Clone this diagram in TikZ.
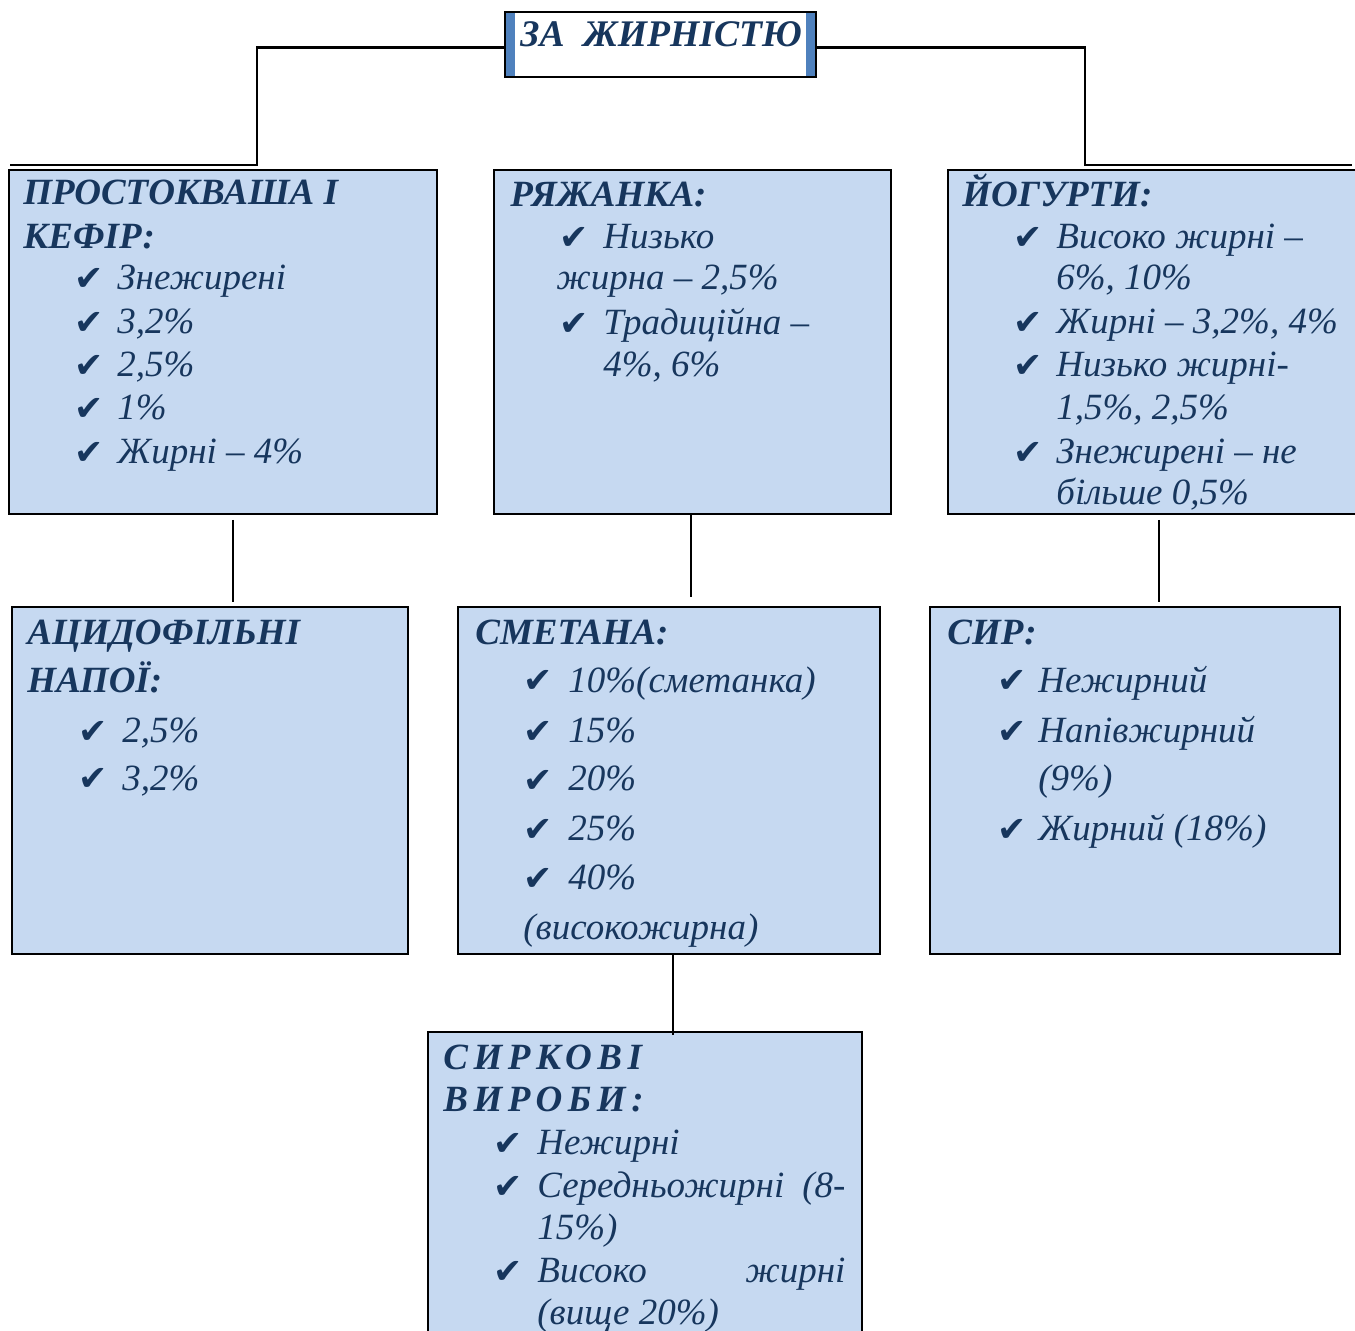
\documentclass[tikz,border=0pt]{standalone}
\usepackage{fontspec}
\setmainfont{Liberation Serif}
\newfontfamily\checkfont{DejaVu Sans}
\definecolor{txt}{HTML}{17365D}
\definecolor{boxfill}{HTML}{C6D9F1}
\definecolor{bar}{HTML}{4F81BD}
\newcommand\chkitem[5]{\node[chk] (#1c) at (#2,#4) {✔}; \node[itm] (#1) at (#3,#4) {#5};}
\newcommand\txitem[4]{\node[itm] (#1) at (#2,#3) {#4};}
\begin{document}
\begin{tikzpicture}[x=0.5pt,y=-0.5pt,
  box/.style={draw=black, line width=1.2pt, fill=boxfill, anchor=north west, inner sep=0, outer sep=0},
  head/.style={anchor=base west, inner sep=0, text=txt, font=\fontsize{18.5}{22}\selectfont\bfseries\itshape, yshift=-1pt},
  itm/.style={anchor=base west, inner sep=0, text=txt, font=\fontsize{18.5}{22}\selectfont\itshape, yshift=-1pt},
  chk/.style={anchor=base west, inner sep=0, text=txt, font=\fontsize{17.5}{20}\checkfont, yshift=-1.5pt},
  conn/.style={draw=black, line width=1.2pt}]
\useasboundingbox (0,0) rectangle (1355,1331);
\clip (0,0) rectangle (1355,1331);
% title
\node[fill=white, minimum width=155.5pt, minimum height=32.5pt, anchor=north west, inner sep=0, outer sep=0] (title) at (505,12) {};
\fill[bar] (title.north west) rectangle ([xshift=5pt]title.south west);
\fill[bar] ([xshift=-5pt]title.north east) rectangle (title.south east);
\draw[line width=1.2pt] (title.north west) rectangle (title.south east);
\node[head, font=\fontsize{18.8}{24}\selectfont\bfseries\itshape] (tt) at (520,45) {ЗА\ \ ЖИРНІСТЮ};
% connectors from title
\coordinate (lk) at (257,165); \coordinate (le) at (10,165);
\coordinate (rk) at (1085,165); \coordinate (re) at (1352,165);
\draw[conn] ([yshift=-1.5pt]title.west) -| (lk) -- (le);
\draw[conn] ([yshift=-1.5pt]title.east) -| (rk) -- (re);
% boxes
\node[box, minimum width=214pt, minimum height=172pt] (b1) at (9,170) {};
\node[box, minimum width=198.5pt, minimum height=172pt] (b2) at (494,170) {};
\node[box, minimum width=215pt, minimum height=172pt] (b3) at (948,170) {};
\node[box, minimum width=198pt, minimum height=173.5pt] (b4) at (12,607) {};
\node[box, minimum width=211pt, minimum height=173.5pt] (b5) at (458,607) {};
\node[box, minimum width=205pt, minimum height=173.5pt] (b6) at (930,607) {};
\node[box, minimum width=217pt, minimum height=160pt] (b7) at (428,1032) {};
% vertical connectors
\coordinate (v1a) at (233,520); \coordinate (v1b) at (233,602);
\coordinate (v2a) at (691,515); \coordinate (v2b) at (691,597);
\coordinate (v3a) at (1159,520); \coordinate (v3b) at (1159,602);
\coordinate (v4a) at (673,954); \coordinate (v4b) at (673,1035);
\draw[conn] (v1a) -- (v1b);
\draw[conn] (v2a) -- (v2b);
\draw[conn] (v3a) -- (v3b);
\draw[conn] (v4a) -- (v4b);
% box 1
\node[head] (h1a) at (23,203) {ПРОСТОКВАША І};
\node[head] (h1b) at (23,247) {КЕФІР:};
\chkitem{a1}{74}{117}{288}{Знежирені}
\chkitem{a2}{74}{117}{332}{3,2\%}
\chkitem{a3}{74}{117}{375}{2,5\%}
\chkitem{a4}{74}{117}{418}{1\%}
\chkitem{a5}{74}{117}{462}{Жирні – 4\%}
% box 2
\node[head] (h2) at (510,205) {РЯЖАНКА:};
\chkitem{b21}{559}{603}{247}{Низько}
\txitem{b22}{556}{288}{жирна – 2,5\%}
\chkitem{b23}{559}{603}{333}{Традиційна –}
\txitem{b24}{603}{375}{4\%, 6\%}
% box 3
\node[head] (h3) at (962,205) {ЙОГУРТИ:};
\chkitem{c1}{1013}{1056}{247}{Високо жирні –}
\txitem{c2}{1056}{288}{6\%, 10\%}
\chkitem{c3}{1013}{1056}{332}{Жирні – 3,2\%, 4\%}
\chkitem{c4}{1013}{1056}{375}{Низько жирні-}
\txitem{c5}{1056}{418}{1,5\%, 2,5\%}
\chkitem{c6}{1013}{1056}{462}{Знежирені – не}
\txitem{c7}{1056}{503}{більше 0,5\%}
% box 4
\node[head] (h4a) at (27,643) {АЦИДОФІЛЬНІ};
\node[head] (h4b) at (27,690) {НАПОЇ:};
\chkitem{d1}{78}{122}{740}{2,5\%}
\chkitem{d2}{78}{122}{788}{3,2\%}
% box 5
\node[head] (h5) at (475,643) {СМЕТАНА:};
\chkitem{e1}{523}{568}{690}{10\%(сметанка)}
\chkitem{e2}{523}{568}{740}{15\%}
\chkitem{e3}{523}{568}{789}{20\%}
\chkitem{e4}{523}{568}{838}{25\%}
\chkitem{e5}{523}{568}{887}{40\%}
\txitem{e6}{523}{937}{(високожирна)}
% box 6
\node[head] (h6) at (947,643) {СИР:};
\chkitem{f1}{997}{1038}{690}{Нежирний}
\chkitem{f2}{997}{1038}{740}{Напівжирний}
\txitem{f3}{1038}{789}{(9\%)}
\chkitem{f4}{997}{1038}{838}{Жирний (18\%)}
% box 7
\node[head, font=\fontsize{18.5}{22}\selectfont\bfseries\itshape\addfontfeature{LetterSpace=15}] (h7a) at (443,1067) {СИРКОВІ};
\node[head, font=\fontsize{18.5}{22}\selectfont\bfseries\itshape\addfontfeature{LetterSpace=15}] (h7b) at (443,1109) {ВИРОБИ:};
\chkitem{g1}{493}{537}{1152}{Нежирні}
\chkitem{g2}{493}{537}{1195}{\makebox[154pt][s]{Середньожирні (8-}}
\txitem{g3}{537}{1237}{15\%)}
\chkitem{g4}{493}{537}{1280}{\makebox[154pt][s]{Високо жирні}}
\txitem{g5}{537}{1322}{(вище 20\%)}
\end{tikzpicture}
\end{document}
